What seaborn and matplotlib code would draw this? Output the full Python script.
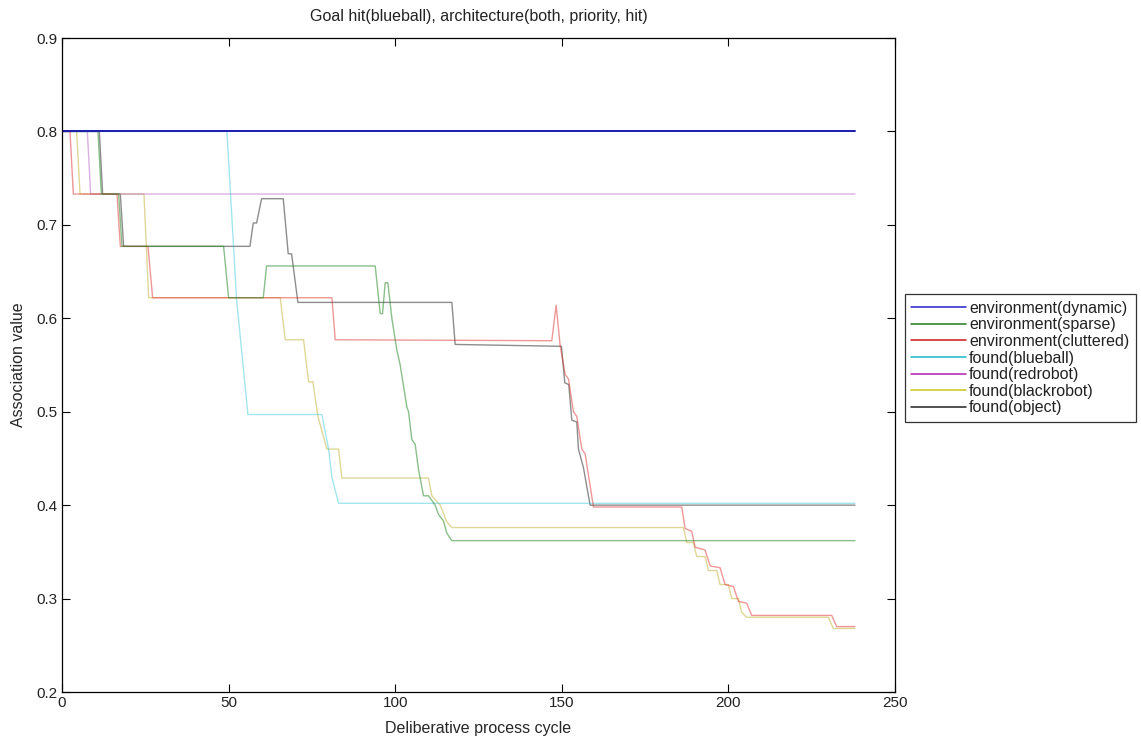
import matplotlib
matplotlib.use('Agg')
import matplotlib.pyplot as plt
import pandas as pd
import seaborn as sns

TITLE = 'Goal hit(blueball), architecture(both, priority, hit)'

SERIES = [
    'environment(dynamic)',
    'environment(sparse)',
    'environment(cluttered)',
    'found(blueball)',
    'found(redrobot)',
    'found(blackrobot)',
    'found(object)',
]

# breakpoints (cycle, association value)
DYNAMIC_X = [0, 238]
DYNAMIC_Y = [0.800, 0.800]

SPARSE_X = [0, 10.8, 11.8, 17.0, 18.0, 48.5, 50.0, 60.4, 61.4, 94.0, 95.5, 96.2, 97.0, 97.8, 99.0, 100.5,
            101.5, 103.5, 104.0, 105.0, 106.0, 107.0, 108.5, 110.0, 112.0, 113.0, 114.5, 115.5, 117.0, 238]
SPARSE_Y = [0.800, 0.800, 0.733, 0.733, 0.677, 0.677, 0.622, 0.622, 0.656, 0.656, 0.605, 0.605, 0.638, 0.638, 0.600, 0.566,
            0.550, 0.505, 0.500, 0.470, 0.465, 0.438, 0.410, 0.410, 0.400, 0.390, 0.383, 0.370, 0.362, 0.362]

CLUTTERED_X = [0, 2.4, 3.4, 16.5, 17.5, 25.8, 27.2, 81.0, 82.0, 147.0, 148.3, 149.5, 151.0, 152.0, 153.5, 154.5,
               156.0, 157.0, 159.5, 186.0, 187.0, 189.0, 190.0, 193.0, 194.5, 197.5, 199.0, 201.5, 203.0, 205.5,
               207.0, 231.0, 232.5, 238]
CLUTTERED_Y = [0.800, 0.800, 0.733, 0.733, 0.677, 0.677, 0.622, 0.622, 0.577, 0.576, 0.614, 0.571, 0.540, 0.535, 0.500, 0.495,
               0.460, 0.455, 0.398, 0.398, 0.375, 0.372, 0.355, 0.352, 0.335, 0.333, 0.315, 0.313, 0.297, 0.295,
               0.282, 0.282, 0.270, 0.270]

BLUEBALL_X = [0, 49.5, 52.4, 55.8, 78.0, 80.0, 81.0, 83.0, 238]
BLUEBALL_Y = [0.800, 0.800, 0.620, 0.497, 0.497, 0.460, 0.430, 0.402, 0.402]

REDROBOT_X = [0, 7.6, 8.6, 238]
REDROBOT_Y = [0.800, 0.800, 0.733, 0.733]

BLACKROBOT_X = [0, 4.4, 5.4, 24.6, 26.0, 65.5, 67.0, 72.5, 74.0, 75.3, 76.8, 79.5, 83.0, 84.0, 110.0, 111.0,
                113.5, 115.5, 117.0, 186.5, 187.5, 189.5, 190.5, 193.0, 194.0, 196.5, 197.5, 200.0, 201.0,
                203.0, 204.0, 205.5, 230.0, 231.5, 238]
BLACKROBOT_Y = [0.800, 0.800, 0.733, 0.733, 0.622, 0.622, 0.577, 0.577, 0.532, 0.532, 0.495, 0.460, 0.460, 0.429, 0.429, 0.410,
                0.400, 0.382, 0.376, 0.376, 0.360, 0.360, 0.345, 0.345, 0.330, 0.330, 0.315, 0.315, 0.300,
                0.300, 0.285, 0.280, 0.280, 0.268, 0.268]

OBJECT_X = [0, 11.2, 12.2, 17.5, 18.5, 56.4, 57.4, 58.4, 59.9, 66.4, 67.9, 68.9, 70.8, 117.0, 118.0, 149.9,
            150.9, 152.1, 153.0, 154.5, 155.0, 156.5, 157.5, 158.5, 238]
OBJECT_Y = [0.800, 0.800, 0.733, 0.733, 0.677, 0.677, 0.702, 0.702, 0.728, 0.728, 0.669, 0.669, 0.617, 0.617, 0.572, 0.570,
            0.531, 0.529, 0.491, 0.489, 0.460, 0.440, 0.420, 0.400, 0.400]

LINE_COLORS = ['#1c1cb0', '#2a8a2a', '#e03030', '#30c8d8', '#b050c0', '#c0b030', '#303030']
LEGEND_COLORS = ['#2222c8', '#1e7a1e', '#d01818', '#18b8c8', '#b020b0', '#c8c818', '#202020']
LINE_ALPHA = [1.0, 0.55, 0.5, 0.45, 0.45, 0.5, 0.55]


def build_frame() -> pd.DataFrame:
    xs = [DYNAMIC_X, SPARSE_X, CLUTTERED_X, BLUEBALL_X, REDROBOT_X, BLACKROBOT_X, OBJECT_X]
    ys = [DYNAMIC_Y, SPARSE_Y, CLUTTERED_Y, BLUEBALL_Y, REDROBOT_Y, BLACKROBOT_Y, OBJECT_Y]
    frames = [pd.DataFrame({'cycle': x, 'value': y, 'series': name}) for name, x, y in zip(SERIES, xs, ys)]
    return pd.concat(frames, ignore_index=True)


sns.set_style('ticks')
plt.rcParams.update({
    'font.family': ['Liberation Sans', 'DejaVu Sans'],
    'font.size': 11,
    'xtick.direction': 'in',
    'ytick.direction': 'in',
    'xtick.top': True,
    'ytick.right': True,
    'xtick.major.size': 6,
    'ytick.major.size': 6,
    'axes.linewidth': 0.9,
    'axes.edgecolor': 'black',
    'text.color': '#222222',
})

df = build_frame()

fig = plt.figure(figsize=(11.41, 7.43), dpi=100)
ax = fig.add_axes([62 / 1141, 1 - 692 / 743, (895 - 62) / 1141, (692 - 38) / 743])

# draw in reverse so the blue line sits on top
for name, color, alpha in reversed(list(zip(SERIES, LINE_COLORS, LINE_ALPHA))):
    sub = df[df['series'] == name]
    sns.lineplot(data=sub, x='cycle', y='value', color=color, alpha=alpha,
                 linewidth=1.4 if name == SERIES[0] else 1.0,
                 sort=False, estimator=None, ax=ax, label=name)

ax.set_xlim(0, 250)
ax.set_ylim(0.2, 0.9)
ax.set_xticks([0, 50, 100, 150, 200, 250])
ax.set_yticks([0.2, 0.3, 0.4, 0.5, 0.6, 0.7, 0.8, 0.9])
ax.set_yticklabels(['0.2', '0.3', '0.4', '0.5', '0.6', '0.7', '0.8', '0.9'])
ax.tick_params(colors='black', labelcolor='#222222', labelsize=11, pad=3)
ax.set_xlabel('Deliberative process cycle', fontsize=11.5, labelpad=8)
ax.set_ylabel('Association value', fontsize=11.5, labelpad=8)
ax.set_title(TITLE, fontsize=11.5, pad=12)

handles, labels = ax.get_legend_handles_labels()
order = [labels.index(name) for name in SERIES]
leg = ax.legend([handles[i] for i in order], SERIES, loc='center left',
                bbox_to_anchor=(905 / 1141, 1 - 358 / 743), bbox_transform=fig.transFigure,
                frameon=True, fancybox=False, edgecolor='black', fontsize=11.5,
                handlelength=3.4, handletextpad=0.2, labelspacing=0.1, borderpad=0.4,
                borderaxespad=0.0)
leg.get_frame().set_linewidth(0.9)
for line, color in zip(leg.get_lines(), LEGEND_COLORS):
    line.set_color(color)
    line.set_alpha(1.0)
    line.set_linewidth(1.1)

fig.savefig('out.png', dpi=100)
